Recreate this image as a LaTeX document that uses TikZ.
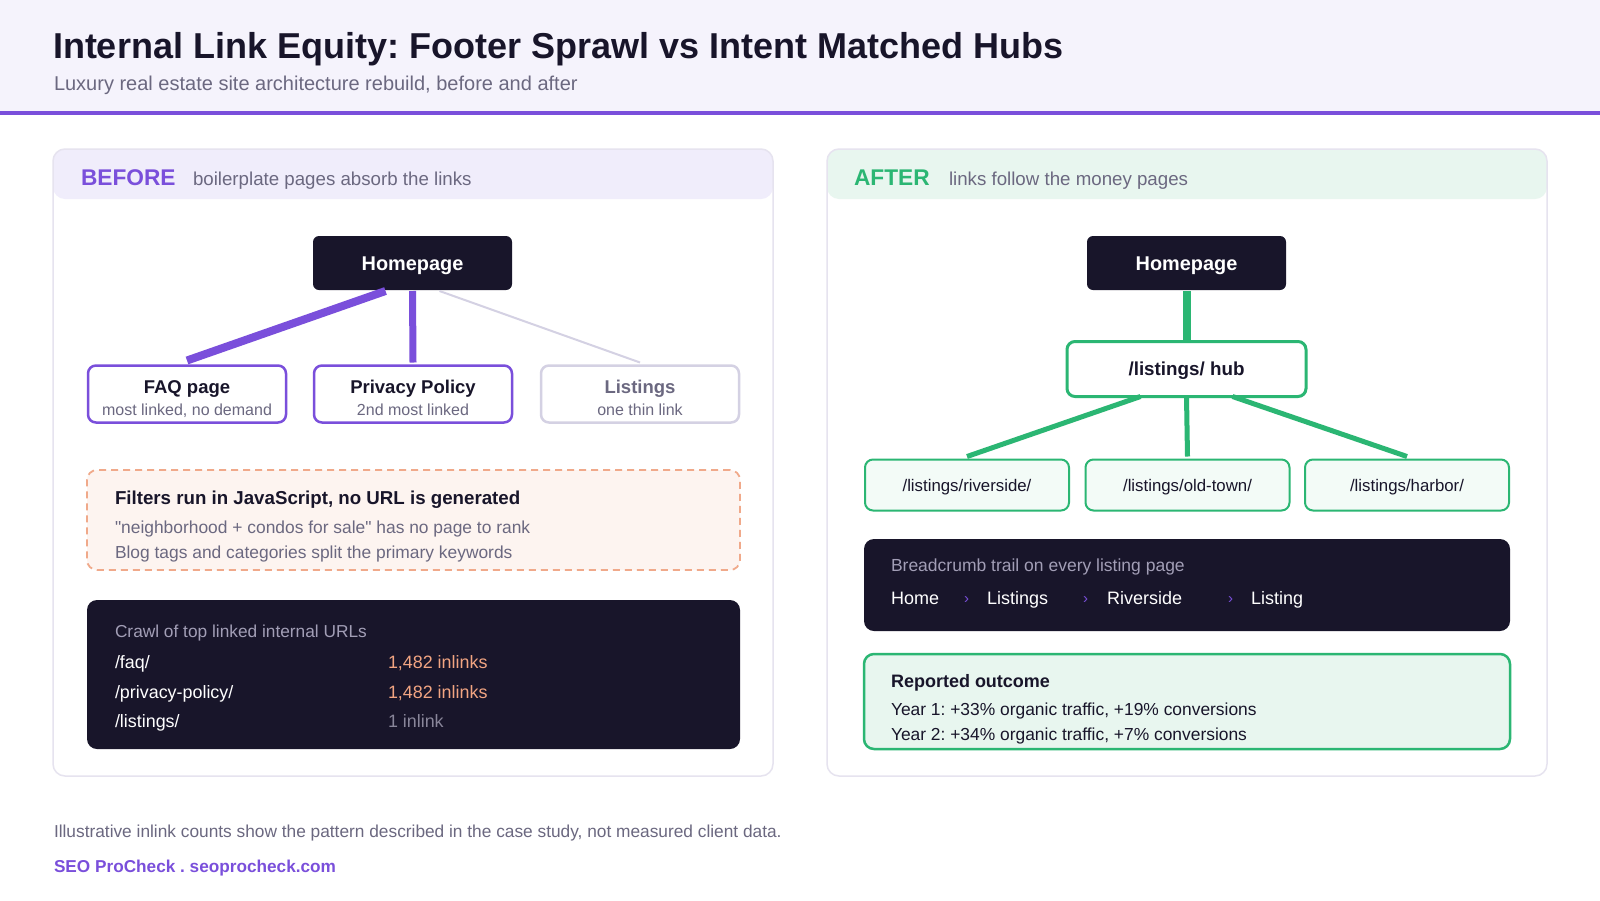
\documentclass[tikz,border=0pt]{standalone}
\usepackage{fontspec}
\setmainfont{Liberation Sans}[Ligatures=TeXOff]
\usetikzlibrary{positioning}

\definecolor{ink}{HTML}{18152A}
\definecolor{purp}{HTML}{7A4FDB}
\definecolor{headbg}{HTML}{F5F3FC}
\definecolor{beforebg}{HTML}{F0EDFB}
\definecolor{afterbg}{HTML}{E8F6EF}
\definecolor{panelline}{HTML}{E6E3EF}
\definecolor{greytxt}{HTML}{6B6880}
\definecolor{paletxt}{HTML}{A29EB6}
\definecolor{mute}{HTML}{D4D1E3}
\definecolor{grn}{HTML}{2BB673}
\definecolor{leafbg}{HTML}{F3FBF7}
\definecolor{peach}{HTML}{F0A98A}
\definecolor{peachbg}{HTML}{FDF4F0}
\definecolor{peachtxt}{HTML}{F2A582}

\newcommand\fsz[2]{\fontsize{#1}{#2}\selectfont}
\frenchspacing

\begin{document}
\begin{tikzpicture}[x=1pt, y=-1pt,
  every node/.style={inner sep=0pt, outer sep=0pt},
  panel/.style={draw=panelline, line width=1.5pt, fill=white, rounded corners=12pt,
                minimum width=720pt, minimum height=627pt},
  homebox/.style={fill=ink, rounded corners=6pt, minimum width=199pt, minimum height=54pt,
                  text height=14.3pt, text depth=0pt, text=white, font=\bfseries\fsz{19.9}{24}},
  pagebox/.style={draw=purp, line width=2.5pt, fill=white, rounded corners=8pt,
                  minimum width=198pt, minimum height=57pt},
  pagehead/.style={anchor=base, text=ink, font=\bfseries\fsz{18.5}{22}},
  pagesub/.style={anchor=base, text=greytxt, font=\fsz{16}{20}},
  hubbox/.style={draw=grn, line width=3pt, fill=white, rounded corners=8pt,
                 minimum width=239pt, minimum height=55pt, text height=13.5pt, text depth=0pt,
                 text=ink, font=\bfseries\fsz{18.8}{22}},
  leafbox/.style={draw=grn, line width=2pt, fill=leafbg, rounded corners=8pt,
                  minimum width=204pt, minimum height=51pt, text height=12pt, text depth=0pt,
                  text=ink, font=\fsz{16.8}{20}},
  card/.style={rounded corners=10pt, minimum width=653pt},
  txt/.style={anchor=base west, text=ink, font=\fsz{17.2}{20}},
  crumb/.style={anchor=base west, text=white, font=\fsz{18}{22}},
  sep/.style={anchor=base west, text=purp, font=\fsz{15}{18}},
  equity/.style={purp, line cap=butt},
  flow/.style={grn, line cap=butt}
]
\useasboundingbox (0,0) rectangle (1600,900);
\fill[white] (0,0) rectangle (1600,900);

% header
\fill[headbg] (0,0) rectangle (1600,112);
\draw[purp, line width=3.5pt] (0,113) -- (1600,113);
\node[txt, font=\bfseries\fsz{36}{42}] (title) at (53,58) {Internal Link Equity: Footer Sprawl vs Intent Matched Hubs};
\node[txt, text=greytxt, font=\fsz{20}{24}] (subtitle) at (54,90) {Luxury real estate site architecture rebuild, before and after};

% panels
\node[panel, path picture={\fill[beforebg] (path picture bounding box.north west) rectangle ([yshift=-50pt]path picture bounding box.north east);}]
  (beforepanel) at (413,462.5) {};
\node[panel, path picture={\fill[afterbg] (path picture bounding box.north west) rectangle ([yshift=-50pt]path picture bounding box.north east);}]
  (afterpanel) at (1187,462.5) {};

\node[txt, text=purp, font=\bfseries\fsz{22.7}{26}] (beforetag) at (81,185) {BEFORE};
\node[txt, text=greytxt, font=\fsz{18.7}{22}] (beforenote) at (193,185) {boilerplate pages absorb the links};
\node[txt, text=grn, font=\bfseries\fsz{22.7}{26}] (aftertag) at (854,185) {AFTER};
\node[txt, text=greytxt, font=\fsz{18.7}{22}] (afternote) at (949,185) {links follow the money pages};

% before tree
\node[homebox] (home1) at (412.5,263) {Homepage};
\node[pagebox] (faq) at (187,394) {};
\node[pagebox] (privacy) at (413,394) {};
\node[pagebox, draw=mute] (listings) at (640,394) {};
\node[pagehead] (faqhead) at ([yshift=1pt]faq.center) {FAQ page};
\node[pagesub] (faqsub) at ([yshift=-21pt]faq.center) {most linked, no demand};
\node[pagehead] (privhead) at ([yshift=1pt]privacy.center) {Privacy Policy};
\node[pagesub] (privsub) at ([yshift=-21pt]privacy.center) {2nd most linked};
\node[pagehead, text=greytxt] (listhead) at ([yshift=1pt]listings.center) {Listings};
\node[pagesub] (listsub) at ([yshift=-21pt]listings.center) {one thin link};

\draw[equity, line width=8pt] ([xshift=-27pt,yshift=-1pt]home1.south) -- ([yshift=5pt]faq.north);
\draw[equity, line width=7pt] ([yshift=-1pt]home1.south) -- ([yshift=3pt]privacy.north);
\draw[mute, line width=2pt] ([xshift=27pt,yshift=-1pt]home1.south) -- ([yshift=3pt]listings.north);

% filters note
\node[card, draw=peach, line width=1.8pt, dash pattern=on 7pt off 5pt, fill=peachbg, minimum height=100pt] (filters) at (413.5,520) {};
\node[txt, font=\bfseries\fsz{18.7}{22}] (filterhead) at (115,504) {Filters run in JavaScript, no URL is generated};
\node[txt, text=greytxt, font=\fsz{17.4}{20}] (filterone) at (115,533) {"neighborhood + condos for sale" has no page to rank};
\node[txt, text=greytxt, font=\fsz{17.4}{20}] (filtertwo) at (115,558) {Blog tags and categories split the primary keywords};

% crawl table
\node[card, fill=ink, minimum height=149pt] (crawl) at (413.5,674.5) {};
\node[txt, text=paletxt, font=\fsz{17.3}{20}] (crawlhead) at (115,637) {Crawl of top linked internal URLs};
\node[txt, text=white, font=\fsz{17.9}{20}] (urlfaq) at (115,668) {/faq/};
\node[txt, text=peachtxt, font=\fsz{17.9}{20}] (cntfaq) at (388,668) {1,482 inlinks};
\node[txt, text=white, font=\fsz{17.9}{20}] (urlpriv) at (115,698) {/privacy-policy/};
\node[txt, text=peachtxt, font=\fsz{17.9}{20}] (cntpriv) at (388,698) {1,482 inlinks};
\node[txt, text=white, font=\fsz{17.9}{20}] (urllist) at (115,727) {/listings/};
\node[txt, text=greytxt!80!white, font=\fsz{17.9}{20}] (cntlist) at (388,727) {1 inlink};

% after tree
\node[homebox] (home2) at (1186.5,263) {Homepage};
\node[hubbox] (hub) at (1186.5,369) {/listings/ hub};
\node[leafbox] (riverside) at (967,485) {/listings/riverside/};
\node[leafbox] (oldtown) at (1187.5,485) {/listings/old-town/};
\node[leafbox] (harbor) at (1407,485) {/listings/harbor/};

\draw[flow, line width=8pt] ([yshift=-1pt]home2.south) -- ([yshift=1pt]hub.north);
\draw[flow, line width=5pt] ([xshift=-46pt]hub.south) -- ([yshift=3pt]riverside.north);
\draw[flow, line width=5pt] (hub.south) -- ([yshift=3pt]oldtown.north);
\draw[flow, line width=5pt] ([xshift=46pt]hub.south) -- ([yshift=3pt]harbor.north);

% breadcrumb
\node[card, fill=ink, minimum width=646pt, minimum height=92pt] (crumbs) at (1187,585) {};
\node[txt, text=paletxt, font=\fsz{17.5}{20}] (crumbhead) at (891,571) {Breadcrumb trail on every listing page};
\foreach \x/\t/\n in {891/Home/crumbhome, 987/Listings/crumblist, 1107/Riverside/crumbriv, 1251/Listing/crumbitem}
  \node[crumb] (\n) at (\x,604) {\t};
\foreach \x/\n in {964/sepa, 1083/sepb, 1228/sepc}
  \node[sep] (\n) at (\x,603) {›};

% outcome
\node[card, fill=afterbg, draw=grn, line width=2.5pt, minimum width=646pt, minimum height=95pt] (outcome) at (1187,701.5) {};
\node[txt, font=\bfseries\fsz{18}{22}] (outhead) at (891,687) {Reported outcome};
\node[txt, font=\fsz{17.4}{20}] (yearone) at (891,715) {Year 1: +33\% organic traffic, +19\% conversions};
\node[txt, font=\fsz{17.4}{20}] (yeartwo) at (891,740) {Year 2: +34\% organic traffic, +7\% conversions};

% footer
\node[txt, text=greytxt, font=\fsz{17.3}{20}] (disclaimer) at (54,837) {Illustrative inlink counts show the pattern described in the case study, not measured client data.};
\node[txt, text=purp, font=\bfseries\fsz{17.2}{20}] (brand) at (54,872) {SEO ProCheck . seoprocheck.com};
\end{tikzpicture}
\end{document}
